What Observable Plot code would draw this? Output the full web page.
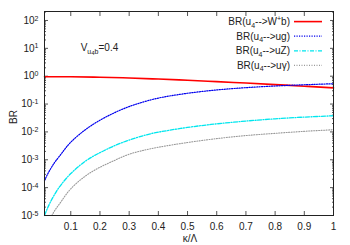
<!DOCTYPE html>
<html><head><meta charset="utf-8">
<script src="https://cdn.jsdelivr.net/npm/d3@7"></script>
<script src="https://cdn.jsdelivr.net/npm/@observablehq/plot@0.6"></script>
<style>body{margin:0;background:#fff} svg{display:block}</style>
</head><body><div id="chart"></div>
<script>
// ---- data ----
const kappaW = [0.01, 0.1, 0.2, 0.3, 0.4, 0.5, 0.6, 0.7, 0.8, 0.9, 1.0];
const brW    = [0.96, 0.955, 0.92, 0.86, 0.79, 0.716, 0.638, 0.569, 0.50, 0.437, 0.38];

const kappaUg = [0.01, 0.02, 0.03, 0.04, 0.05, 0.07, 0.1, 0.15, 0.2, 0.25, 0.3, 0.35, 0.4, 0.45, 0.5, 0.55, 0.6, 0.65, 0.7, 0.75, 0.8, 0.85, 0.9, 0.95, 1.0];
const brUg    = [1.78e-4, 2.95e-4, 4.57e-4, 6.76e-4, 9.55e-4, 1.78e-3, 4.27e-3, 1.20e-2, 2.63e-2, 4.90e-2, 8.13e-2, 0.120, 0.164, 0.204, 0.244, 0.283, 0.321, 0.356, 0.388, 0.418, 0.445, 0.470, 0.493, 0.515, 0.537];

const kappaUZ = [0.01, 0.02, 0.03, 0.05, 0.07, 0.1, 0.15, 0.2, 0.25, 0.3, 0.35, 0.4, 0.5, 0.6, 0.7, 0.8, 0.9, 1.0];
const brUZ    = [1.0e-5, 1.8e-5, 3.0e-5, 7.1e-5, 1.4e-4, 3.2e-4, 8.9e-4, 1.8e-3, 3.2e-3, 5.1e-3, 7.4e-3, 9.8e-3, 1.45e-2, 1.95e-2, 2.45e-2, 2.95e-2, 3.4e-2, 3.8e-2];

const kappaUA = [0.035, 0.05, 0.07, 0.1, 0.15, 0.2, 0.25, 0.3, 0.35, 0.4, 0.5, 0.6, 0.7, 0.8, 0.9, 1.0];
const brUA    = [1.0e-5, 1.8e-5, 3.5e-5, 9.1e-5, 2.6e-4, 5.4e-4, 9.5e-4, 1.58e-3, 2.19e-3, 2.82e-3, 4.17e-3, 5.75e-3, 7.4e-3, 8.9e-3, 1.05e-2, 1.2e-2];

const xTicks = [0.1, 0.2, 0.3, 0.4, 0.5, 0.6, 0.7, 0.8, 0.9, 1];
const xTickLabels = ["0.1", "0.2", "0.3", "0.4", "0.5", "0.6", "0.7", "0.8", "0.9", "1"];
const yMajor = [1e-5, 1e-4, 1e-3, 1e-2, 1e-1, 1e0, 1e1, 1e2];
const yExp = ["-5", "-4", "-3", "-2", "-1", "0", "1", "2"];
const yMinorMantissa = [2, 3, 4, 5, 6, 7, 8, 9];
const yMinor = yMajor.flatMap(d => yMinorMantissa.map(m => m * d)).filter(v => v < 210);

const legendLabels = [
  ["BR(u", {sub: "4"}, "-->W", {sup: "+"}, "b)"],
  ["BR(u", {sub: "4"}, "-->ug)"],
  ["BR(u", {sub: "4"}, "-->uZ)"],
  ["BR(u", {sub: "4"}, "-->u\u03b3)"]
];

const font = "'Liberation Sans', Arial, Helvetica, sans-serif";
const styles = [
  {stroke: "#ff0000", strokeWidth: 1.6, strokeDasharray: null},
  {stroke: "#0000ee", strokeWidth: 1.2, strokeDasharray: "1.2,1.3"},
  {stroke: "#00e6ee", strokeWidth: 1.3, strokeDasharray: "4,1.5,1,1.5"},
  {stroke: "#999999", strokeWidth: 1.1, strokeDasharray: "1,1.5"}
];
const series = [[kappaW, brW], [kappaUg, brUg], [kappaUZ, brUZ], [kappaUA, brUA]];

const lineMarks = series.map(([k, v], i) =>
  Plot.line(v, {x: (d, j) => k[j], y: d => d, curve: "natural", ...styles[i]})
);

const plot = Plot.plot({
  width: 350, height: 245,
  marginLeft: 44, marginRight: 17, marginTop: 11, marginBottom: 30,
  style: {fontFamily: font, fontSize: "10px", background: "#fff", color: "#222"},
  x: {domain: [0.01, 1]},
  y: {type: "log", domain: [1e-5, 210]},
  marks: [
    Plot.axisY({ticks: yMinor, anchor: "left", tickSize: -2, tickFormat: () => "", label: null, stroke: "#555"}),
    Plot.axisY({ticks: yMinor, anchor: "right", tickSize: -2, tickFormat: () => "", label: null, stroke: "#555"}),
    Plot.axisY({ticks: yMajor, anchor: "left", tickSize: -4, tickPadding: 10,
      tickFormat: d => "10^" + yExp[yMajor.indexOf(d)], label: null, stroke: "#555"}),
    Plot.axisY({ticks: yMajor, anchor: "right", tickSize: -4, tickFormat: () => "", label: null, stroke: "#555"}),
    Plot.axisX({ticks: xTicks, anchor: "bottom", tickSize: -4, tickPadding: 11,
      tickFormat: d => xTickLabels[xTicks.indexOf(d)], label: null, stroke: "#555"}),
    Plot.axisX({ticks: xTicks, anchor: "top", tickSize: -4, tickFormat: () => "", label: null, stroke: "#555"}),
    ...lineMarks,
    Plot.frame({stroke: "#222"})
  ]
});

document.getElementById("chart").appendChild(plot);
const svg = d3.select(plot);

// remove empty tick-label texts
svg.selectAll("text").filter(function() { return this.textContent === ""; }).remove();

// superscripts on y tick labels
svg.selectAll('g[aria-label="y-axis tick label"] text').each(function() {
  const s = this.textContent;
  if (!s.startsWith("10^")) return;
  const e = s.slice(3);
  const t = d3.select(this);
  t.text(null);
  t.append("tspan").text("10");
  t.append("tspan").attr("dy", "-0.45em").attr("font-size", "7px").text(e);
});

function richText(t, parts) {
  let pending = 0;
  parts.forEach(p => {
    let sp;
    if (typeof p === "string") {
      sp = t.append("tspan").text(p);
      if (pending) sp.attr("dy", pending);
      pending = 0;
    } else if (p.sub) {
      sp = t.append("tspan").attr("dy", 2.5 + pending).attr("font-size", "7px").text(p.sub);
      pending = -2.5;
    } else if (p.sup) {
      sp = t.append("tspan").attr("dy", -4 + pending).attr("font-size", "7px").text(p.sup);
      pending = 4;
    }
  });
}

const xs = plot.scale("x"), ys = plot.scale("y");
// legend
const leg = svg.append("g").attr("font-family", font).attr("font-size", "10px").attr("fill", "#222");
legendLabels.forEach((parts, i) => {
  const y = 21.6 + 14.6 * i;
  const t = leg.append("text").attr("x", 290).attr("y", y + 3.5).attr("text-anchor", "end");
  richText(t, parts);
  leg.append("line").attr("x1", 294).attr("x2", 322).attr("y1", y).attr("y2", y)
    .attr("stroke", styles[i].stroke).attr("stroke-width", styles[i].strokeWidth)
    .attr("stroke-dasharray", styles[i].strokeDasharray);
});

// V_{u4b}=0.4 annotation
const vt = svg.append("text").attr("font-family", font).attr("font-size", "10px").attr("fill", "#222")
  .attr("x", xs.apply(0.2)).attr("y", ys.apply(10.5) + 3.5);
vt.append("tspan").text("V");
vt.append("tspan").attr("dy", 3).attr("font-size", "7px").text("u");
vt.append("tspan").attr("dy", 1.5).attr("font-size", "6px").text("4");
vt.append("tspan").attr("dy", -1.5).attr("font-size", "7px").text("b");
vt.append("tspan").attr("dy", -3).text("=0.4");

// axis titles
svg.append("text").attr("font-family", font).attr("font-size", "10px").attr("fill", "#222")
  .attr("text-anchor", "middle").attr("transform", "translate(13.5,117) rotate(-90)").attr("dy", "0.35em").text("BR");
svg.append("text").attr("font-family", font).attr("font-size", "10px").attr("fill", "#222")
  .attr("text-anchor", "middle").attr("x", 190).attr("y", 238).attr("dy", "0.35em").text("\u03ba/\u039b");
</script>
</body></html>
